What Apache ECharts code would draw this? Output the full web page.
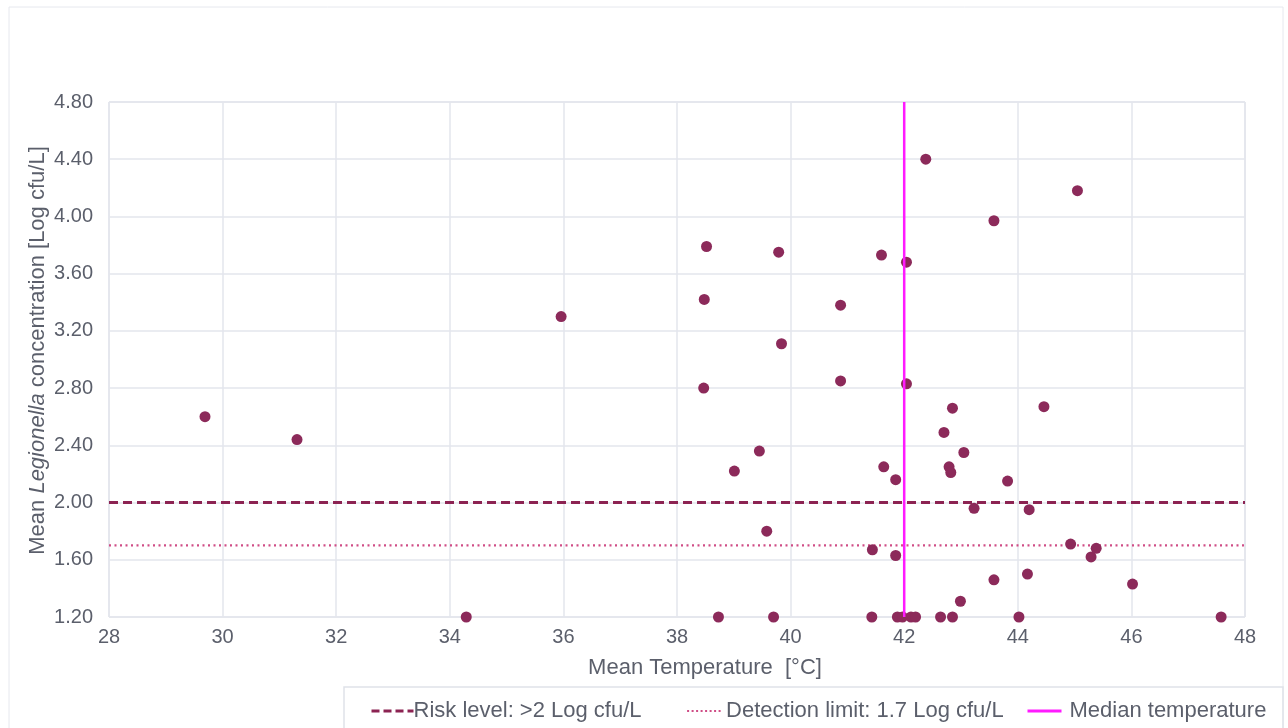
<!DOCTYPE html>
<html>
<head>
<meta charset="utf-8">
<script src="https://cdn.jsdelivr.net/npm/echarts@6/dist/echarts.min.js"></script>
<style>
  html, body { margin: 0; padding: 0; background: #fff; }
  #chart { width: 1288px; height: 728px; }
</style>
</head>
<body>
<div id="chart"></div>
<script>
// Mean water temperature per site [°C]
const temperature = [29.69, 31.31, 34.29, 35.96, 38.52, 38.48, 38.47, 38.73, 39.01, 39.45,
  39.58, 39.70, 39.79, 39.84, 40.88, 40.88, 41.44, 41.43, 41.60, 41.64,
  41.85, 41.85, 42.04, 42.04, 41.88, 41.97, 42.12, 42.20, 42.38, 42.64,
  42.85, 42.70, 42.85, 42.79, 42.82, 43.05, 43.23, 42.99, 43.58, 43.58,
  43.82, 44.02, 44.17, 44.20, 44.46, 45.05, 44.93, 45.29, 45.38, 46.02, 47.58];
// Mean Legionella concentration per site [Log cfu/L]
const concentration = [2.60, 2.44, 1.20, 3.30, 3.79, 3.42, 2.80, 1.20, 2.22, 2.36,
  1.80, 1.20, 3.75, 3.11, 3.38, 2.85, 1.67, 1.20, 3.73, 2.25,
  2.16, 1.63, 3.68, 2.83, 1.20, 1.20, 1.20, 1.20, 4.40, 1.20,
  1.20, 2.49, 2.66, 2.25, 2.21, 2.35, 1.96, 1.31, 1.46, 3.97,
  2.15, 1.20, 1.50, 1.95, 2.67, 4.18, 1.71, 1.62, 1.68, 1.43, 1.20];

const riskLevel = 2.0;
const detectionLimit = 1.7;
const medianTemperature = 42.0;

const xRange = [28, 48];
const yRange = [1.2, 4.8];

const seriesNames = ['Risk level: >2 Log cfu/L', 'Detection limit: 1.7 Log cfu/L', 'Median temperature'];

const points = temperature.map((t, i) => [t, concentration[i]]);

const FONT = 'Liberation Sans, Arial, sans-serif';
const TEXT = '#5b5f6b';
const GRID = '#e3e6ed';
const NONE = 'rgba(0,0,0,0)';

const riskStyle = { color: '#8c2352', width: 3, type: [9, 5] };
const detectionStyle = { color: '#cf4d86', width: 2.2, type: [2, 3.5] };
const medianStyle = { color: '#ff1aff', width: 2.5, type: 'solid' };

// one legend per entry so each key sits where the framed legend box wants it
function legendEntry(name, left, width, textShift, lineStyle) {
  return {
    data: [name],
    left: left, top: 695,
    itemWidth: width, itemHeight: 14,
    itemStyle: { color: NONE, borderWidth: 0 },
    lineStyle: Object.assign({}, lineStyle),
    textStyle: { fontFamily: FONT, fontSize: 22, color: TEXT, padding: [0, 0, 0, textShift] }
  };
}

const chart = echarts.init(document.getElementById('chart'), null, { renderer: 'canvas' });

chart.setOption({
  backgroundColor: '#ffffff',
  animation: false,
  textStyle: { fontFamily: FONT },
  graphic: [
    { type: 'rect', shape: { x: 9, y: 7, width: 1274, height: 740 },
      style: { fill: 'none', stroke: '#e6e8ee', lineWidth: 1 }, silent: true },
    { type: 'rect', shape: { x: 344, y: 687, width: 939, height: 60 },
      style: { fill: 'none', stroke: '#dfe2e9', lineWidth: 1.5 }, silent: true }
  ],
  grid: {
    left: 109, top: 102, right: 43, bottom: 111,
    show: true, borderColor: '#d5d9e2', borderWidth: 1
  },
  legend: [
    legendEntry(seriesNames[0], 365, 42, -5, { color: riskStyle.color, width: 3, type: [8, 4] }),
    legendEntry(seriesNames[1], 681, 34, 0, { color: detectionStyle.color, width: 2.2, type: [2, 2.5] }),
    legendEntry(seriesNames[2], 1021, 34, 3, { color: medianStyle.color, width: 3, type: 'solid' })
  ],
  xAxis: {
    type: 'value',
    min: xRange[0], max: xRange[1], interval: 2,
    name: 'Mean Temperature  [°C]',
    nameLocation: 'middle',
    nameGap: 40,
    nameMoveOverlap: false,
    nameTextStyle: { fontFamily: FONT, fontSize: 22, color: TEXT, padding: [0, 0, 0, 56] },
    axisLine: { show: false },
    axisTick: { show: false },
    axisLabel: { fontFamily: FONT, fontSize: 20, color: TEXT, margin: 10 },
    splitLine: { show: true, lineStyle: { color: GRID, width: 1.5 } }
  },
  yAxis: {
    type: 'value',
    min: yRange[0], max: yRange[1], interval: 0.4,
    name: '{a|Mean }{b|Legionella}{a| concentration [Log cfu/L]}',
    nameLocation: 'middle',
    nameGap: 60,
    nameRotate: 90,
    nameMoveOverlap: false,
    nameTextStyle: {
      padding: [0, 0, 0, 18],
      rich: {
        a: { fontFamily: FONT, fontSize: 22, color: TEXT },
        b: { fontFamily: FONT, fontSize: 22, color: TEXT, fontStyle: 'italic' }
      }
    },
    axisLine: { show: false },
    axisTick: { show: false },
    axisLabel: {
      fontFamily: FONT, fontSize: 20, color: TEXT, margin: 16,
      formatter: v => v.toFixed(2)
    },
    splitLine: { show: true, lineStyle: { color: GRID, width: 1.5 } }
  },
  series: [
    {
      name: 'Sites',
      type: 'scatter',
      data: points,
      symbol: 'circle',
      symbolSize: 11,
      itemStyle: { color: '#8c2a5a', opacity: 1 },
      z: 3
    },
    {
      name: seriesNames[0],
      type: 'line',
      data: [[xRange[0], riskLevel], [xRange[1], riskLevel]],
      symbol: 'none',
      lineStyle: riskStyle,
      itemStyle: { color: NONE },
      z: 2
    },
    {
      name: seriesNames[1],
      type: 'line',
      data: [[xRange[0], detectionLimit], [xRange[1], detectionLimit]],
      symbol: 'none',
      lineStyle: detectionStyle,
      itemStyle: { color: NONE },
      z: 2
    },
    {
      name: seriesNames[2],
      type: 'line',
      data: [[medianTemperature, yRange[0]], [medianTemperature, yRange[1]]],
      symbol: 'none',
      lineStyle: medianStyle,
      itemStyle: { color: NONE },
      z: 4
    }
  ]
});
</script>
</body>
</html>
